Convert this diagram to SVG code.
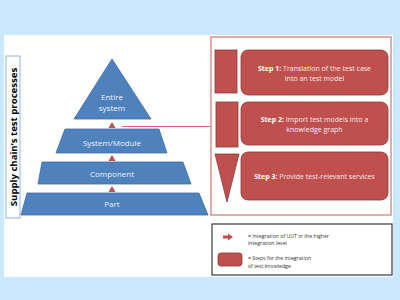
<svg xmlns="http://www.w3.org/2000/svg" width="400" height="300" viewBox="0 0 400 300">
<style>
.lvl{fill:#4f81bd;stroke:#3c6ca4;stroke-width:0.8}
.lt{font-family:"Open Sans","Liberation Sans",sans-serif;font-size:8px;fill:#eef3fa;text-anchor:middle}
.up{fill:#c0504d}
.blk{fill:#c0504d;stroke:#8c3a38;stroke-width:0.8}
.st{font-family:"Open Sans","Liberation Sans",sans-serif;font-size:7px;fill:#fbeaea;text-anchor:middle}
.st tspan.b{font-weight:bold;fill:#ffffff}
.lg{font-family:"Open Sans","Liberation Sans",sans-serif;font-size:5.2px;fill:#333333}
</style>
<rect x="0" y="0" width="400" height="300" fill="#cce8fe"/>
<rect x="4" y="35" width="389" height="242" fill="#ffffff"/>

<g id="axis-label">
<rect x="6" y="56" width="14" height="162" fill="#ffffff" stroke="#8db3e2" stroke-width="1"/>
<text transform="translate(16.5,137) rotate(-90)" font-family="Open Sans,Liberation Sans,sans-serif" font-size="9.6" font-weight="bold" fill="#000000" text-anchor="middle">Supply chain’s test processes</text>
</g>

<g id="connectors">
<line x1="122" y1="126.5" x2="211" y2="126.5" stroke="#d66a68" stroke-width="1"/>
<polygon class="up" points="112,122 108.5,128 115.5,128"/>
<polygon class="up" points="112,155 108.5,161 115.5,161"/>
<polygon class="up" points="112,186 108.5,192 115.5,192"/>
</g>

<g id="entire-system">
<polygon class="lvl" points="112,59 74,119 151,119"/>
<text class="lt" x="112" y="100">Entire</text>
<text class="lt" x="112" y="111">system</text>
</g>
<g id="system-module">
<polygon class="lvl" points="65,129 159,129 167,153 56,153"/>
<text class="lt" x="112" y="146">System/Module</text>
</g>
<g id="component">
<polygon class="lvl" points="42,162 183,162 191,184 38,184"/>
<text class="lt" x="112" y="177">Component</text>
</g>
<g id="part">
<polygon class="lvl" points="27,193 199,193 208,215 21,215"/>
<text class="lt" x="112" y="207">Part</text>
</g>

<g id="steps-frame">
<rect x="211" y="37" width="180" height="178" fill="#ffffff" stroke="#da8f8d" stroke-width="1.5"/>
</g>
<g id="step1">
<rect class="blk" x="215" y="50" width="22" height="43"/>
<rect class="blk" x="241" y="50" width="147" height="45" rx="7"/>
<text class="st" x="314.5" y="71"><tspan class="b">Step 1:</tspan> Translation of the test case</text>
<text class="st" x="314.5" y="81">into an test model</text>
</g>
<g id="step2">
<rect class="blk" x="216" y="102" width="22" height="45"/>
<rect class="blk" x="241" y="102" width="147" height="43" rx="7"/>
<text class="st" x="314.5" y="122"><tspan class="b">Step 2:</tspan> Import test models into a</text>
<text class="st" x="314.5" y="132">knowledge graph</text>
</g>
<g id="step3">
<polygon class="blk" points="215,154 239,154 227,202"/>
<rect class="blk" x="241" y="152" width="147" height="48" rx="7"/>
<text class="st" x="314.5" y="179"><tspan class="b">Step 3:</tspan> Provide test-relevant services</text>
</g>

<g id="legend">
<rect x="212" y="224" width="180" height="51" fill="#ffffff" stroke="#3a3a3a" stroke-width="1.2"/>
<polygon class="up" points="223,235.5 228,235.5 228,233.5 233,237 228,240.5 228,238.5 223,238.5"/>
<text class="lg" x="248" y="238">= Integration of UUT in the higher</text>
<text class="lg" x="248" y="245">integration level</text>
<rect class="blk" x="218" y="253" width="24" height="13" rx="3"/>
<text class="lg" x="248" y="260">= Steps for the integration</text>
<text class="lg" x="248" y="268">of test knowledge</text>
</g>
</svg>
